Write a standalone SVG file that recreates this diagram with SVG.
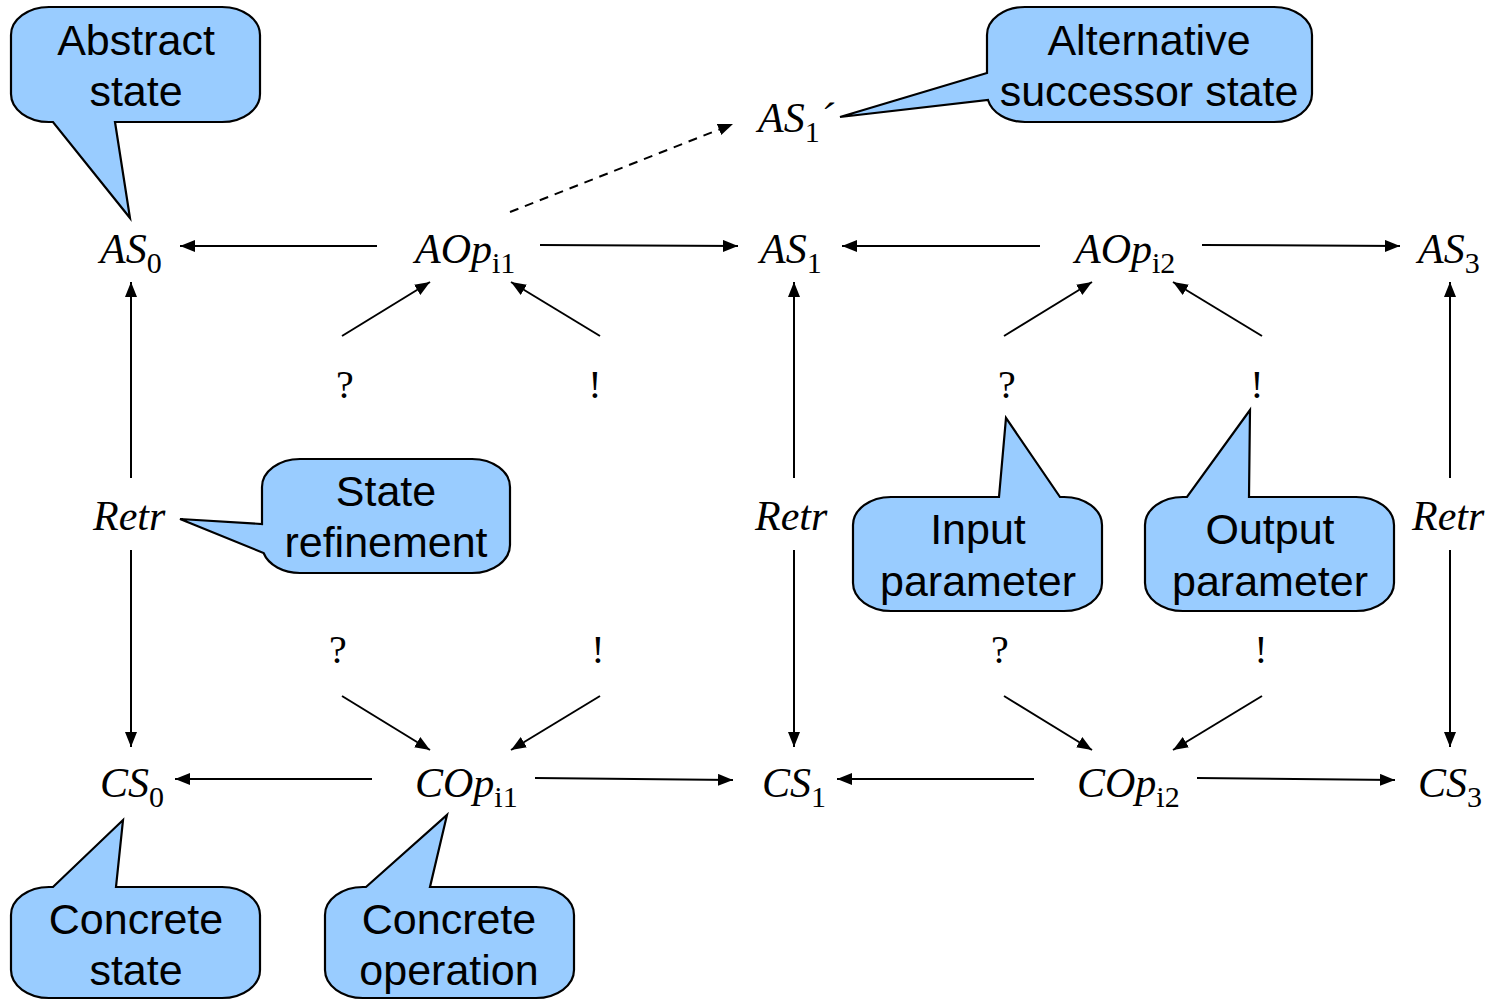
<svg xmlns="http://www.w3.org/2000/svg" width="1497" height="1000" viewBox="0 0 1497 1000">
<style>
.m{font-family:"Liberation Serif","Times New Roman",serif;font-size:42px;font-style:italic;fill:#000}
.s{font-style:normal;font-size:30px}
.p{font-family:"Liberation Serif","Times New Roman",serif;font-size:40px;fill:#000;text-anchor:middle}
.c{fill:#99CCFF;stroke:#000;stroke-width:2.2;stroke-linejoin:miter}
.ct{font-family:"Liberation Sans",Arial,sans-serif;font-size:43px;fill:#000;text-anchor:middle}
.a{stroke:#000;stroke-width:2;fill:none;marker-end:url(#ah)}
</style>
<defs>
<marker id="ah" markerUnits="userSpaceOnUse" markerWidth="18" markerHeight="14" refX="15" refY="6" orient="auto">
<path d="M0,0 L15,6 L0,12 Z" fill="#000"/>
</marker>
</defs>
<rect width="1497" height="1000" fill="#fff"/>

<g id="connectors">
<line class="a" x1="377" y1="246" x2="180" y2="246"/>
<line class="a" x1="540" y1="245" x2="738" y2="246"/>
<line class="a" x1="1040" y1="246" x2="842" y2="246"/>
<line class="a" x1="1202" y1="245" x2="1400" y2="246"/>
<line class="a" x1="131" y1="478" x2="131" y2="282"/>
<line class="a" x1="131" y1="550" x2="131" y2="747"/>
<line class="a" x1="794" y1="478" x2="794" y2="282"/>
<line class="a" x1="794" y1="550" x2="794" y2="747"/>
<line class="a" x1="1450" y1="478" x2="1450" y2="282"/>
<line class="a" x1="1450" y1="550" x2="1450" y2="747"/>
<line class="a" x1="342" y1="336" x2="430" y2="282"/>
<line class="a" x1="600" y1="336" x2="511" y2="282"/>
<line class="a" x1="1004" y1="336" x2="1092" y2="282"/>
<line class="a" x1="1262" y1="336" x2="1173" y2="282"/>
<line class="a" x1="342" y1="696" x2="430" y2="750"/>
<line class="a" x1="600" y1="696" x2="511" y2="750"/>
<line class="a" x1="1004" y1="696" x2="1092" y2="750"/>
<line class="a" x1="1262" y1="696" x2="1173" y2="750"/>
<line class="a" x1="372" y1="779" x2="175" y2="779"/>
<line class="a" x1="535" y1="778" x2="733" y2="780"/>
<line class="a" x1="1034" y1="779" x2="837" y2="779"/>
<line class="a" x1="1197" y1="778" x2="1395" y2="780"/>
<line class="a" x1="510" y1="212" x2="733" y2="124" stroke-dasharray="9,7"/>
</g>

<g id="AS0"><text class="m" x="100" y="263">AS<tspan class="s" dy="10">0</tspan></text></g>
<g id="AOpi1"><text class="m" x="415" y="263">AOp<tspan class="s" dy="10">i1</tspan></text></g>
<g id="AS1"><text class="m" x="760" y="263">AS<tspan class="s" dy="10">1</tspan></text></g>
<g id="AOpi2"><text class="m" x="1075" y="263">AOp<tspan class="s" dy="10">i2</tspan></text></g>
<g id="AS3"><text class="m" x="1418" y="263">AS<tspan class="s" dy="10">3</tspan></text></g>
<g id="AS1p"><text class="m" x="758" y="132">AS<tspan class="s" dy="10">1</tspan><tspan dy="-10">´</tspan></text></g>

<g id="Retr0"><text class="m" x="93" y="530">Retr</text></g>
<g id="Retr1"><text class="m" x="755" y="530">Retr</text></g>
<g id="Retr3"><text class="m" x="1412" y="530">Retr</text></g>

<g id="CS0"><text class="m" x="100" y="797">CS<tspan class="s" dy="10">0</tspan></text></g>
<g id="COpi1"><text class="m" x="415" y="797">COp<tspan class="s" dy="10">i1</tspan></text></g>
<g id="CS1"><text class="m" x="762" y="797">CS<tspan class="s" dy="10">1</tspan></text></g>
<g id="COpi2"><text class="m" x="1077" y="797">COp<tspan class="s" dy="10">i2</tspan></text></g>
<g id="CS3"><text class="m" x="1418" y="797">CS<tspan class="s" dy="10">3</tspan></text></g>

<g id="params">
<text class="p" x="345" y="398">?</text>
<text class="p" x="595" y="398">!</text>
<text class="p" x="1007" y="398">?</text>
<text class="p" x="1257" y="398">!</text>
<text class="p" x="338" y="663">?</text>
<text class="p" x="598" y="663">!</text>
<text class="p" x="1000" y="663">?</text>
<text class="p" x="1261" y="663">!</text>
</g>

<g id="callout-abstract-state">
<path class="c" d="M49,7 H222 A38 28 0 0 1 260 35 V94 A38 28 0 0 1 222 122 H115 L130 218 L53 122 H49 A38 28 0 0 1 11 94 V35 A38 28 0 0 1 49 7 Z"/>
<text class="ct" x="136" y="55">Abstract</text>
<text class="ct" x="136" y="106">state</text>
</g>

<g id="callout-alternative">
<path class="c" d="M1025,7 H1274 A38 28 0 0 1 1312 35 V94 A38 28 0 0 1 1274 122 H1025 A38 28 0 0 1 988 100 L840 117 L987 73 V35 A38 28 0 0 1 1025 7 Z"/>
<text class="ct" x="1149" y="55">Alternative</text>
<text class="ct" x="1149" y="106">successor state</text>
</g>

<g id="callout-state-refinement">
<path class="c" d="M300,459 H472 A38 28 0 0 1 510 487 V545 A38 28 0 0 1 472 573 H300 A38 28 0 0 1 263.6 553 L180 519 L262 524 V487 A38 28 0 0 1 300 459 Z"/>
<text class="ct" x="386" y="506">State</text>
<text class="ct" x="386" y="557">refinement</text>
</g>

<g id="callout-input">
<path class="c" d="M891,497 H999 L1006 418 L1060 497 H1064 A38 28 0 0 1 1102 525 V583 A38 28 0 0 1 1064 611 H891 A38 28 0 0 1 853 583 V525 A38 28 0 0 1 891 497 Z"/>
<text class="ct" x="978" y="544">Input</text>
<text class="ct" x="978" y="596">parameter</text>
</g>

<g id="callout-output">
<path class="c" d="M1183,497 H1187 L1250 410 L1249 497 H1356 A38 28 0 0 1 1394 525 V583 A38 28 0 0 1 1356 611 H1183 A38 28 0 0 1 1145 583 V525 A38 28 0 0 1 1183 497 Z"/>
<text class="ct" x="1270" y="544">Output</text>
<text class="ct" x="1270" y="596">parameter</text>
</g>

<g id="callout-concrete-state">
<path class="c" d="M49,887 H53 L123 820 L116 887 H222 A38 28 0 0 1 260 915 V970 A38 28 0 0 1 222 998 H49 A38 28 0 0 1 11 970 V915 A38 28 0 0 1 49 887 Z"/>
<text class="ct" x="136" y="934">Concrete</text>
<text class="ct" x="136" y="985">state</text>
</g>

<g id="callout-concrete-operation">
<path class="c" d="M363,887 H366 L447 815 L430 887 H536 A38 28 0 0 1 574 915 V970 A38 28 0 0 1 536 998 H363 A38 28 0 0 1 325 970 V915 A38 28 0 0 1 363 887 Z"/>
<text class="ct" x="449" y="934">Concrete</text>
<text class="ct" x="449" y="985">operation</text>
</g>
</svg>
